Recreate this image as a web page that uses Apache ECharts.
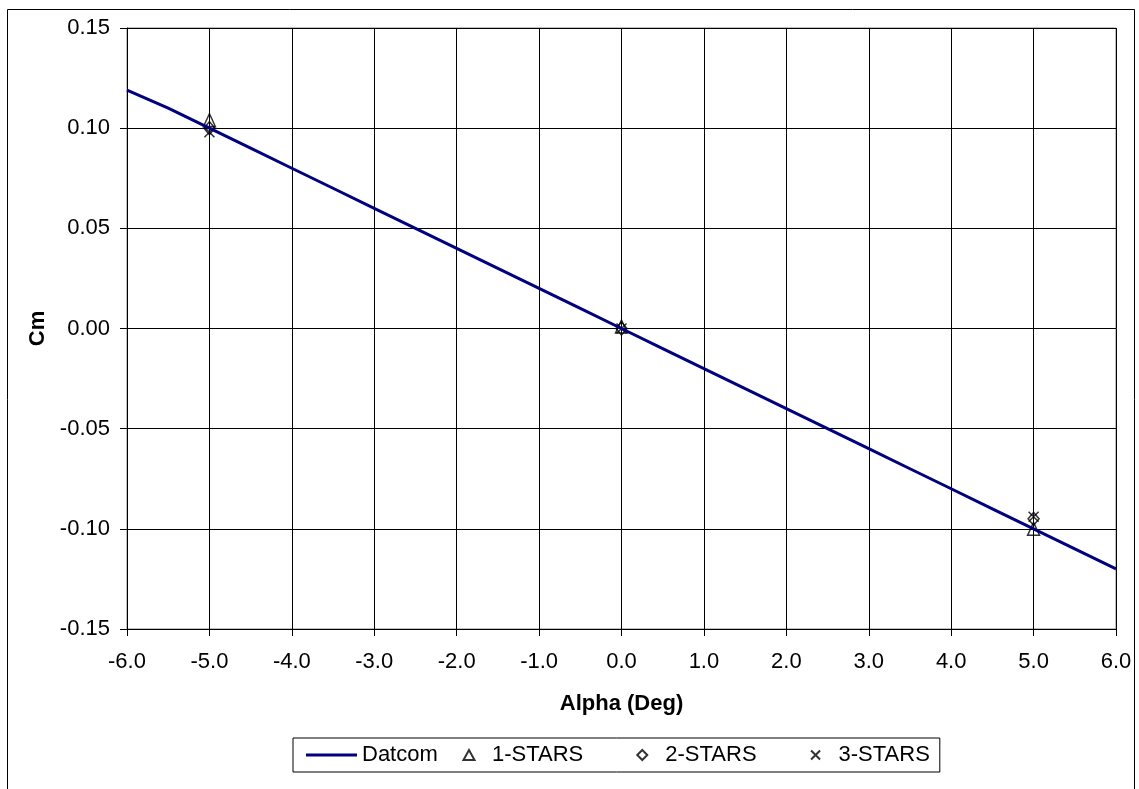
<!DOCTYPE html>
<html><head><meta charset="utf-8">
<script src="https://cdn.jsdelivr.net/npm/echarts@6/dist/echarts.min.js"></script>
<style>html,body{margin:0;padding:0;background:#fff}#c{width:1139px;height:789px}</style>
</head><body><div id="c"></div>
<script>
const datcomAlpha = [-6, -5.5, -5, -4.5, -4, -3.5, -3, -2.5, -2, -1.5, -1, -0.5, 0, 0.5, 1, 1.5, 2, 2.5, 3, 3.5, 4, 4.5, 5, 5.5, 6];
const datcomCm = [0.119, 0.110, 0.100, 0.090, 0.080, 0.070, 0.060, 0.050, 0.040, 0.030, 0.020, 0.010, 0.000, -0.010, -0.020, -0.030, -0.040, -0.050, -0.060, -0.070, -0.080, -0.090, -0.100, -0.110, -0.120];
const starsAlpha = [-5, 0, 5];
const stars1 = [0.104, 0.001, -0.100];
const stars2 = [0.100, 0.000, -0.095];
const stars3 = [0.098, 0.000, -0.094];

const pair = (xs, ys) => xs.map((x, i) => [x, ys[i]]);
const font = 'Liberation Sans, Arial, sans-serif';
const xPath = 'path://M0,0L10,10M10,0L0,10';
const hollow = {color: 'rgba(0,0,0,0)', borderColor: '#000', borderWidth: 1.5};
const legText = {fontFamily: font, fontSize: 22, color: '#000'};

const chart = echarts.init(document.getElementById('c'), null, {renderer: 'canvas'});
chart.setOption({
  animation: false,
  backgroundColor: '#fff',
  graphic: [{type: 'rect', shape: {x: 7.5, y: 9.5, width: 1127, height: 800}, style: {fill: 'none', stroke: '#000', lineWidth: 1}}],
  grid: {left: 127, right: 23, top: 28, bottom: 160, show: true, borderColor: '#808080', borderWidth: 1},
  xAxis: {
    type: 'value', min: -6, max: 6, interval: 1,
    name: 'Alpha (Deg)', nameLocation: 'middle', nameGap: 64,
    nameTextStyle: {fontFamily: font, fontSize: 22, fontWeight: 'bold', color: '#000'},
    axisLine: {onZero: false, lineStyle: {color: '#000'}},
    axisTick: {show: true, length: 7, lineStyle: {color: '#000'}},
    axisLabel: {fontFamily: font, fontSize: 22, color: '#000', margin: 22, formatter: v => v.toFixed(1)},
    splitLine: {show: true, lineStyle: {color: '#000', width: 1}}
  },
  yAxis: {
    type: 'value', min: -0.15, max: 0.15, interval: 0.05,
    name: 'Cm', nameLocation: 'middle', nameGap: 76,
    nameTextStyle: {fontFamily: font, fontSize: 22, fontWeight: 'bold', color: '#000'},
    axisLine: {onZero: false, show: true, lineStyle: {color: '#000'}},
    axisTick: {show: true, length: 7, lineStyle: {color: '#000'}},
    axisLabel: {fontFamily: font, fontSize: 22, color: '#000', margin: 17, formatter: v => v.toFixed(2)},
    splitLine: {show: true, lineStyle: {color: '#000', width: 1}}
  },
  legend: [
    {
      left: 293, top: 738,
      padding: [6, 502, 6, 13],
      borderColor: '#000', borderWidth: 1,
      itemWidth: 51, itemHeight: 12,
      textStyle: legText,
      data: [{name: 'Datcom', icon: 'path://M0,0L51,0L51,3L0,3Z'}]
    },
    {
      left: 450, top: 738,
      padding: [6, 0, 6, 0],
      itemGap: 40, itemWidth: 36, itemHeight: 12,
      textStyle: legText,
      data: [
        {name: '1-STARS', icon: 'path://M0,0M36,12M12.5,11L18,1L23.5,11Z'},
        {name: '2-STARS', icon: 'path://M0,0M36,12M18,1L23,6L18,11L13,6Z'},
        {name: '3-STARS', icon: 'path://M0,0M36,12M13.5,1.5L22.5,10.5M22.5,1.5L13.5,10.5'}
      ]
    }
  ],
  series: [
    {name: 'Datcom', type: 'line', data: pair(datcomAlpha, datcomCm), showSymbol: false, symbol: 'none',
     lineStyle: {color: '#000080', width: 3}, itemStyle: {color: '#000080'}},
    {name: '1-STARS', type: 'scatter', data: pair(starsAlpha, stars1), symbol: 'triangle', symbolSize: [12, 13], itemStyle: hollow},
    {name: '2-STARS', type: 'scatter', data: pair(starsAlpha, stars2), symbol: 'diamond', symbolSize: [11, 13], itemStyle: hollow},
    {name: '3-STARS', type: 'scatter', data: pair(starsAlpha, stars3), symbol: xPath, symbolSize: 10, itemStyle: hollow}
  ]
});
</script></body></html>
